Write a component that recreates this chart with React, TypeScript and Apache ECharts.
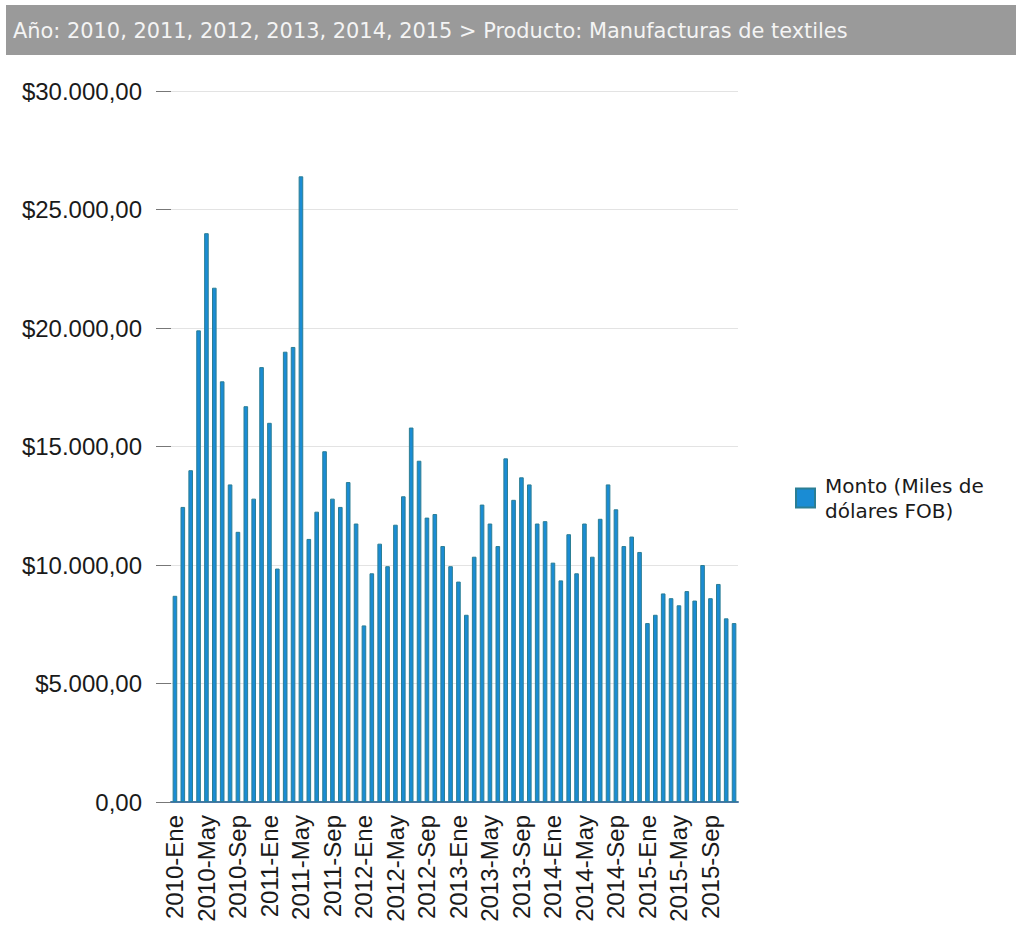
import React, { useEffect, useRef } from "react";
import * as echarts from "echarts";

// Monthly export amounts (thousands of USD FOB), textile manufactures
const years = ["2010", "2011", "2012", "2013", "2014", "2015"];
const months = ["Ene", "Feb", "Mar", "Abr", "May", "Jun", "Jul", "Ago", "Sep", "Oct", "Nov", "Dic"];

const v2010 = [8700, 12450, 14000, 19900, 24000, 21700, 17750, 13400, 11400, 16700, 12800, 18350];
const v2011 = [16000, 9850, 19000, 19200, 26400, 11100, 12250, 14800, 12800, 12450, 13500, 11750];
const v2012 = [7450, 9650, 10900, 9950, 11700, 12900, 15800, 14400, 12000, 12150, 10800, 9950];
const v2013 = [9300, 7900, 10350, 12550, 11750, 10800, 14500, 12750, 13700, 13400, 11750, 11850];
const v2014 = [10100, 9350, 11300, 9650, 11750, 10350, 11950, 13400, 12350, 10800, 11200, 10550];
const v2015 = [7550, 7900, 8800, 8600, 8300, 8900, 8500, 10000, 8600, 9200, 7750, 7550];

const yTicks = [0, 5000, 10000, 15000, 20000, 25000, 30000];

const seriesName = "Monto (Miles de dólares FOB)";
const legendLines = ["Monto (Miles de", "dólares FOB)"];
const titleText = "Año: 2010, 2011, 2012, 2013, 2014, 2015 > Producto: Manufacturas de textiles";

const categories: string[] = [];
years.forEach((y) => months.forEach((m) => categories.push(`${y}-${m}`)));
const values = [...v2010, ...v2011, ...v2012, ...v2013, ...v2014, ...v2015];

function formatMoney(v: number): string {
  if (v === 0) return "0,00";
  const [intPart, dec] = v.toFixed(2).split(".");
  const withDots = intPart.replace(/\B(?=(\d{3})+(?!\d))/g, ".");
  return `$${withDots},${dec}`;
}

export default function App() {
  const ref = useRef<HTMLDivElement>(null);

  useEffect(() => {
    if (!ref.current) return;
    const chart = echarts.init(ref.current, undefined, { renderer: "svg" });
    chart.setOption({
      animation: false,
      backgroundColor: "#ffffff",
      graphic: [
        {
          type: "rect",
          left: 6,
          top: 5,
          shape: { width: 1010, height: 50 },
          style: { fill: "#9a9a9a" },
          silent: true,
        },
        {
          type: "text",
          left: 13,
          top: 20,
          style: {
            text: titleText,
            fill: "#f4f4f4",
            font: "20.9px 'DejaVu Sans'",
          },
          silent: true,
        },
      ],
      legend: {
        orient: "vertical",
        left: 790,
        top: 468,
        icon: "rect",
        itemWidth: 19,
        itemHeight: 19,
        selectedMode: false,
        formatter: () => legendLines.join("\n"),
        textStyle: {
          fontFamily: "DejaVu Sans",
          fontSize: 20,
          lineHeight: 25,
          color: "#1a1a1a",
          padding: [0, 0, 0, 5],
        },
      },
      grid: { left: 171, right: 278, top: 91, bottom: 128 },
      xAxis: {
        type: "category",
        data: categories,
        axisLine: { lineStyle: { color: "#4679a6", width: 2 } },
        axisTick: {
          interval: 3,
          alignWithLabel: true,
          length: 10,
          lineStyle: { color: "#4679a6", width: 1.5 },
        },
        axisLabel: {
          interval: 3,
          rotate: 90,
          margin: 13,
          fontFamily: "Liberation Sans",
          fontSize: 24,
          color: "#1a1a1a",
        },
      },
      yAxis: {
        type: "value",
        min: yTicks[0],
        max: yTicks[yTicks.length - 1],
        interval: yTicks[1] - yTicks[0],
        axisLine: { show: false },
        axisTick: { show: true, length: 15, lineStyle: { color: "#777777" } },
        splitLine: { lineStyle: { color: "#e3e3e3" } },
        axisLabel: {
          margin: 29,
          formatter: (v: number) => formatMoney(v),
          fontFamily: "Liberation Sans",
          fontSize: 24,
          color: "#1a1a1a",
        },
      },
      series: [
        {
          type: "bar",
          name: seriesName,
          data: values,
          barWidth: 4.6,
          itemStyle: { color: "#1a8cd4", borderColor: "#2b7e94", borderWidth: 1 },
        },
      ],
    });
    return () => chart.dispose();
  }, []);

  return (
    <div
      ref={ref}
      style={{ position: "absolute", left: 0, top: 0, width: 1016, height: 930 }}
    />
  );
}
